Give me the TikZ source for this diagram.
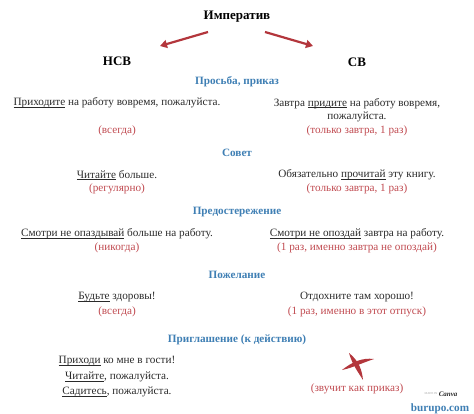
\documentclass[tikz,border=0pt]{standalone}
\usepackage{fontspec}
\setmainfont{Liberation Serif}
\usepackage{tikz}
\usetikzlibrary{arrows.meta}
\definecolor{arrowred}{HTML}{B3363C}
\definecolor{notered}{HTML}{C04A50}
\definecolor{headblue}{HTML}{3F7FB4}
\definecolor{textgray}{HTML}{2A2A2A}
\def\fsize{\fontsize{11.2}{13}\selectfont}
\def\lx{117}
\def\rx{357}
% underline close to the baseline
\def\ul#1{\setbox0\hbox{#1}\rlap{\rule[-1.6pt]{\wd0}{0.5pt}}\box0\relax}
\tikzstyle{title}=[font=\fontsize{13}{15}\selectfont\bfseries, text=black, inner sep=1pt]
\tikzstyle{head}=[font=\fsize\bfseries, text=headblue, inner sep=1pt]
\tikzstyle{ex}=[font=\fsize, text=textgray, inner sep=1pt, align=center]
\tikzstyle{note}=[font=\fsize, text=notered, inner sep=1pt, align=center]
\tikzstyle{redarrow}=[draw=arrowred, line width=2.2pt, -{Triangle[length=7pt,width=8pt]}]

\begin{document}
\begin{tikzpicture}[x=1pt, y=-1pt]
\useasboundingbox (0,0) rectangle (474,414);
\node [title] (imp) at (237,17) {Императив};
\node [title] (nsv) at (\lx,61) {НСВ};
\node [title] (sv) at (\rx,62) {СВ};
\coordinate (al) at (208,32);
\coordinate (ar) at (265,32);
\draw [redarrow] (al) -- (160,46) coordinate (alend);
\draw [redarrow] (ar) -- (313,46) coordinate (arend);
% просьба
\node [head] (h1) at (237,82) {Просьба, приказ};
\node [ex] (l1) at (\lx,103) {\ul{Приходите} на работу вовремя, пожалуйста.};
\node [ex] (r1) at (\rx,110) {Завтра \ul{придите} на работу вовремя,\\пожалуйста.};
\node [note] (ln1) at (\lx,131) {(всегда)};
\node [note] (rn1) at (\rx,131) {(только завтра, 1 раз)};
% совет
\node [head] (h2) at (237,153) {Совет};
\node [ex] (l2) at (\lx,175) {\ul{Читайте} больше.};
\node [ex] (r2) at (\rx,175) {Обязательно \ul{прочитай} эту книгу.};
\node [note] (ln2) at (\lx,189) {(регулярно)};
\node [note] (rn2) at (\rx,189) {(только завтра, 1 раз)};
% предостережение
\node [head] (h3) at (237,212) {Предостережение};
\node [ex] (l3) at (\lx,234) {\ul{Смотри не опаздывай} больше на работу.};
\node [ex] (r3) at (\rx,234) {\ul{Смотри не опоздай} завтра на работу.};
\node [note] (ln3) at (\lx,248) {(никогда)};
\node [note] (rn3) at (\rx,248) {(1 раз, именно завтра не опоздай)};
% пожелание
\node [head] (h4) at (237,275) {Пожелание};
\node [ex] (l4) at (\lx,297) {\ul{Будьте} здоровы!};
\node [ex] (r4) at (\rx,297) {Отдохните там хорошо!};
\node [note] (ln4) at (\lx,312) {(всегда)};
\node [note] (rn4) at (\rx,312) {(1 раз, именно в этот отпуск)};
% приглашение
\node [head] (h5) at (237,340) {Приглашение (к действию)};
\node [ex] (l5) at (\lx,377) {\ul{Приходи} ко мне в гости!\\[2.5pt]\ul{Читайте}, пожалуйста.\\[2.5pt]\ul{Садитесь}, пожалуйста.};
\fill [arrowred] (349,353) .. controls (359,361) and (362,370) .. (363,380)
  .. controls (358,372) and (352,364) .. (349,353) -- cycle;
\fill [arrowred] (342,370) .. controls (352,362) and (362,357.5) .. (374,359)
  .. controls (362,363) and (352,368) .. (342,370) -- cycle;
\node [note] (rn5) at (\rx,389) {(звучит как приказ)};
\node [font=\fontsize{3}{4}\selectfont, text=gray!70, inner sep=0pt] (made) at (431,394) {MADE IN};
\node [font=\fontsize{7}{8}\selectfont\itshape\bfseries, text=textgray, inner sep=0pt, right=1pt] (canva) at (made.east) {Canva};
\node [head] (site) at (440,409) {burupo.com};
\end{tikzpicture}
\end{document}
